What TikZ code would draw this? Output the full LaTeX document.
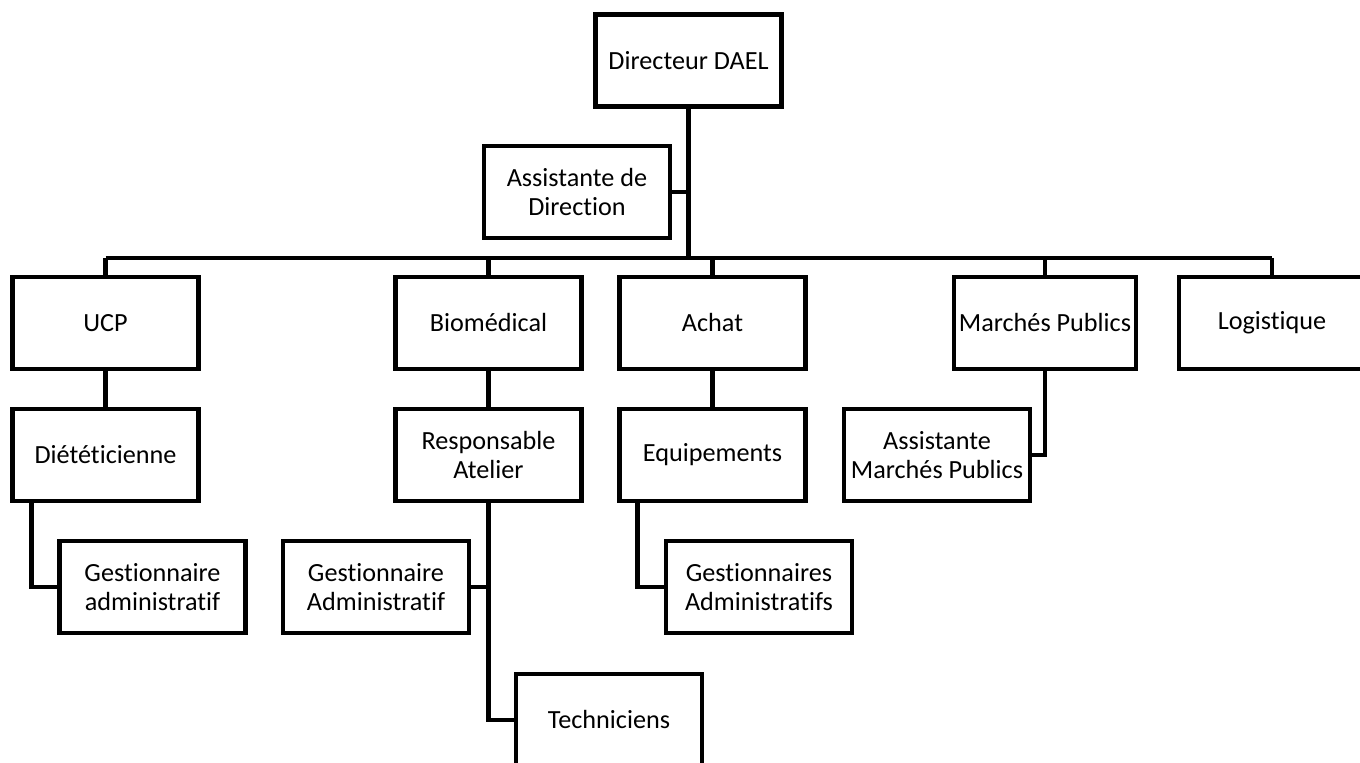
\documentclass[tikz,border=0pt]{standalone}
\usepackage{fontspec}
\setmainfont{Carlito}[Ligatures=NoCommon]
\usepackage{tikz}

\begin{document}
\begin{tikzpicture}[x=0.5pt,y=-0.5pt,line width=2.1pt,
  box/.style={draw,rectangle,minimum width=93pt,minimum height=46pt,align=center,inner sep=1pt,font=\fontsize{13.1}{14.2}\selectfont}]
\useasboundingbox (0,0) rectangle (1360,763);
%direction
\node[box] (dir) at (688.5,60.5) {Directeur DAEL};
\node[box] (asst) at (577,192) {Assistante de\\Direction};
\coordinate (busl) at (105.5,258);
\coordinate (busr) at (1272,258);
%services
\node[box] (ucp) at (105.5,323) {UCP};
\node[box] (bio) at (488.5,323) {Biomédical};
\node[box] (achat) at (712.5,323) {Achat};
\node[box,minimum width=91pt] (mp) at (1045,323) {Marchés Publics};
\node[box] (logi) at (1272,323) {Logistique};
%second row
\node[box] (diet) at (105.5,455) {Diététicienne};
\node[box] (resp) at (488.5,455) {Responsable\\Atelier};
\node[box] (equip) at (712.5,455) {Equipements};
\node[box] (amp) at (937,455) {Assistante\\Marchés Publics};
%third row
\node[box] (gadm1) at (152.5,587) {Gestionnaire\\administratif};
\node[box] (gadm2) at (376,587) {Gestionnaire\\Administratif};
\node[box] (gadms) at (759,587) {Gestionnaires\\Administratifs};
\node[box] (tech) at (609,720) {Techniciens};
%links
\draw (dir.south) -- (dir.south |- busl);
\draw (asst.east) -- (asst.east -| dir.south);
\draw (busl) -- (busr);
\draw (ucp.north) -- (ucp.north |- busl);
\draw (bio.north) -- (bio.north |- busl);
\draw (achat.north) -- (achat.north |- busl);
\draw (mp.north) -- (mp.north |- busl);
\draw (logi.north) -- (busr);
\draw (ucp.south) -- (diet.north);
\draw (bio.south) -- (resp.north);
\draw (achat.south) -- (equip.north);
\draw (diet.south west) ++(21,0) |- (gadm1.west);
\draw (resp.south) |- (tech.west);
\draw (gadm2.east) -- (gadm2.east -| resp.south);
\draw (equip.south west) ++(20,0) |- (gadms.west);
\draw (mp.south) |- (amp.east);
\end{tikzpicture}
\end{document}
